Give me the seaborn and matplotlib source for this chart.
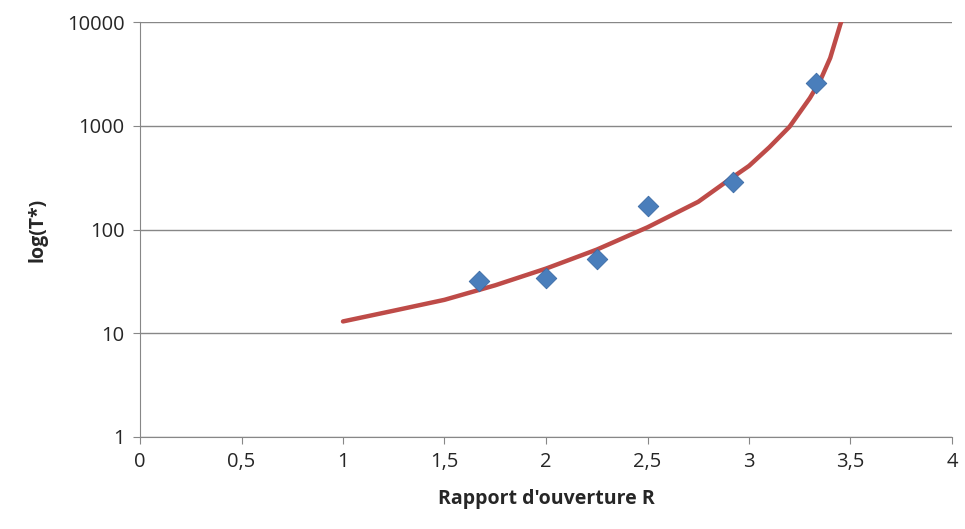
import matplotlib
matplotlib.use("Agg")
import matplotlib.pyplot as plt
import seaborn as sns
from matplotlib.ticker import FixedLocator, FuncFormatter

# measured points
r_mes = [1.67, 2.0, 2.25, 2.5, 2.92, 3.33]
t_mes = [32, 34, 52, 170, 290, 2600]

# fitted curve
r_fit = [1.0, 1.25, 1.5, 1.75, 2.0, 2.25, 2.5, 2.75, 2.9, 3.0, 3.1, 3.2, 3.3, 3.35, 3.4, 3.45, 3.48]
t_fit = [13, 16.5, 21, 29, 42, 64, 105, 185, 300, 410, 620, 980, 1850, 2700, 4500, 9500, 14000]

sns.set_style("white")
plt.rcParams['font.family'] = ['Open Sans', 'DejaVu Sans']

fig = plt.figure(figsize=(9.65, 5.29), dpi=100)
ax = fig.add_axes([140/965, 92/529, 812/965, 415/529])

sns.lineplot(x=r_fit, y=t_fit, ax=ax, color='#be4b48', linewidth=3.2, sort=False)
sns.scatterplot(x=r_mes, y=t_mes, ax=ax, marker='D', s=110, color='#4a7ebb',
                edgecolor='#3a6aa5', linewidth=0.6, zorder=5)

ax.set_yscale('log')
ax.set_xlim(0, 4)
ax.set_ylim(1, 10000)
ax.yaxis.set_major_locator(FixedLocator([1, 10, 100, 1000, 10000]))
ax.yaxis.set_minor_locator(FixedLocator([]))
ax.yaxis.set_major_formatter(FuncFormatter(lambda v, p: f"{v:g}"))
ax.set_xticks([0, 0.5, 1, 1.5, 2, 2.5, 3, 3.5, 4])
ax.xaxis.set_major_formatter(FuncFormatter(lambda v, p: f"{v:g}".replace('.', ',')))
ax.grid(axis='y', color='#878787', linewidth=1)
for s in ['top', 'right']:
    ax.spines[s].set_visible(False)
for s in ['left', 'bottom']:
    ax.spines[s].set_color('#878787')
ax.tick_params(axis='both', labelsize=14.5, length=5, color='#878787', direction='out',
               left=True, bottom=True, pad=6)
ax.set_xlabel("Rapport d'ouverture R", fontsize=14, fontweight='bold', labelpad=12)
ax.set_ylabel("log(T*)", fontsize=14, fontweight='bold', labelpad=14)

fig.savefig("out.png", dpi=100)
